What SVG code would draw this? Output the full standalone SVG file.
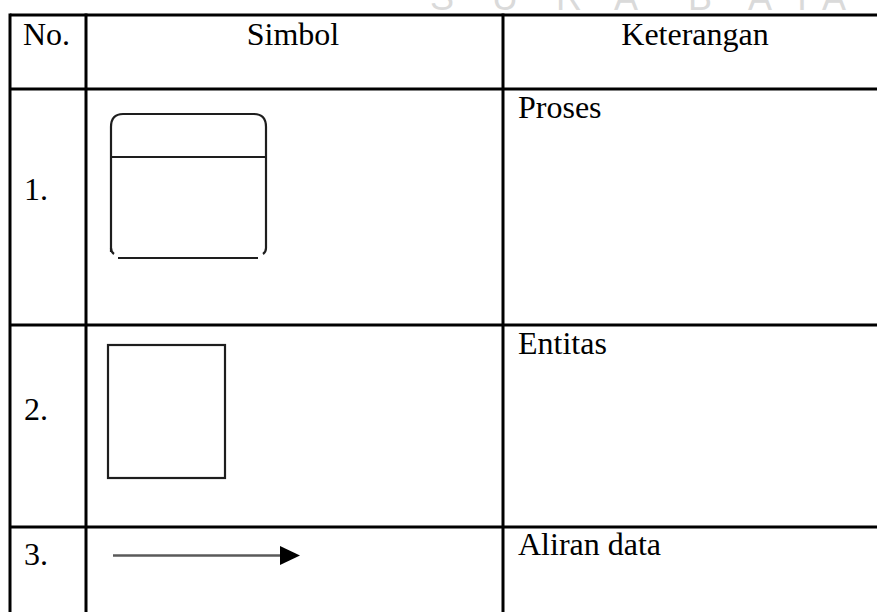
<svg xmlns="http://www.w3.org/2000/svg" width="877" height="612" viewBox="0 0 877 612">
<style>
.t{font-family:"Liberation Serif","Times New Roman",serif;font-size:32px;fill:#000}
.grid{stroke:#000;stroke-width:3;fill:none}
.sym{stroke:#1e1e1e;stroke-width:2.2;fill:none}
.wm{font-family:"Liberation Sans",Arial,sans-serif;font-size:36px;fill:#dadada}
</style>
<rect width="877" height="612" fill="#fff"/>
<g id="watermark">
<text class="wm" y="10" x="430 492 556 614 688 748 790 822">SURABAYA</text>
</g>
<g id="grid">
<line class="grid" x1="10" y1="15" x2="877" y2="15"/>
<line class="grid" x1="10" y1="89" x2="877" y2="89"/>
<line class="grid" x1="10" y1="325" x2="877" y2="325"/>
<line class="grid" x1="10" y1="527" x2="877" y2="527"/>
<line class="grid" x1="10" y1="13.5" x2="10" y2="612"/>
<line class="grid" x1="86" y1="13.5" x2="86" y2="612"/>
<line class="grid" x1="503" y1="13.5" x2="503" y2="612"/>
</g>
<g id="header">
<text class="t" x="23" y="45">No.</text>
<text class="t" x="293" y="45" text-anchor="middle">Simbol</text>
<text class="t" x="695" y="45" text-anchor="middle">Keterangan</text>
</g>
<g id="row1">
<text class="t" x="24" y="200">1.</text>
<path class="sym" d="M111,252 L111,127 Q111,114 123,114 L254,114 Q266,114 266,127 L266,248 Q266,252 263,254"/>
<path class="sym" d="M111,248 Q111,252 114,254"/>
<line class="sym" x1="111" y1="157" x2="266" y2="157"/>
<line class="sym" x1="118" y1="258" x2="258" y2="258" stroke-width="2.6"/>
<text class="t" x="518" y="118">Proses</text>
</g>
<g id="row2">
<text class="t" x="24" y="420">2.</text>
<rect class="sym" x="108" y="345" width="117" height="133"/>
<line class="sym" x1="108" y1="345" x2="225" y2="345" stroke-width="3"/>
<line class="sym" x1="108" y1="478" x2="225" y2="478" stroke-width="3"/>
<text class="t" x="518" y="354">Entitas</text>
</g>
<g id="row3">
<text class="t" x="24" y="565">3.</text>
<line x1="113" y1="555.5" x2="282" y2="555.5" stroke="#5a5a5a" stroke-width="2.6"/>
<polygon points="280,546 300,555.5 280,565" fill="#000"/>
<text class="t" x="518" y="555">Aliran data</text>
</g>
</svg>
